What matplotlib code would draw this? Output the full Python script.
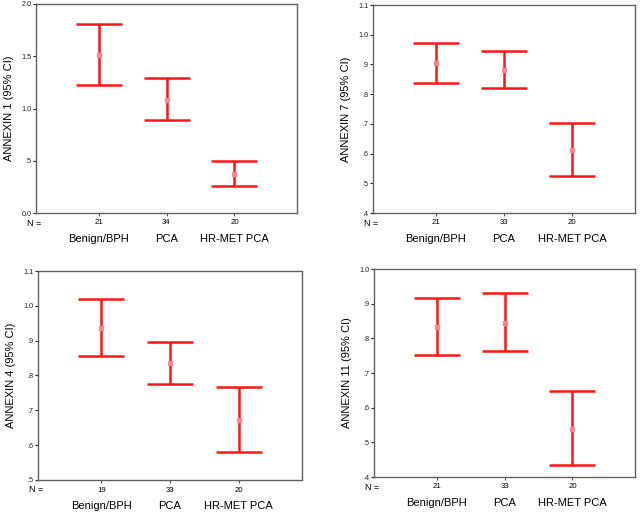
import matplotlib
matplotlib.use("Agg")
import matplotlib.pyplot as plt
from matplotlib.transforms import blended_transform_factory

plt.rcParams['font.family'] = ['Liberation Sans', 'DejaVu Sans']

categories = ["Benign/BPH", "PCA", "HR-MET PCA"]

a1_n = [21, 34, 20]
a1_mean = [1.515, 1.086, 0.374]
a1_low = [1.227, 0.888, 0.256]
a1_high = [1.805, 1.294, 0.495]
a1_ticks = [0.0, 0.5, 1.0, 1.5, 2.0]
a1_labels = ["0.0", ".5", "1.0", "1.5", "2.0"]

a7_n = [21, 33, 20]
a7_mean = [0.904, 0.882, 0.612]
a7_low = [0.837, 0.819, 0.524]
a7_high = [0.972, 0.946, 0.703]
a7_ticks = [0.4, 0.5, 0.6, 0.7, 0.8, 0.9, 1.0, 1.1]
a7_labels = [".4", ".5", ".6", ".7", ".8", ".9", "1.0", "1.1"]

a4_n = [19, 33, 20]
a4_mean = [0.936, 0.835, 0.672]
a4_low = [0.855, 0.776, 0.579]
a4_high = [1.019, 0.896, 0.767]
a4_ticks = [0.5, 0.6, 0.7, 0.8, 0.9, 1.0, 1.1]
a4_labels = [".5", ".6", ".7", ".8", ".9", "1.0", "1.1"]

a11_n = [21, 33, 20]
a11_mean = [0.833, 0.845, 0.539]
a11_low = [0.751, 0.763, 0.434]
a11_high = [0.9155, 0.931, 0.648]
a11_ticks = [0.4, 0.5, 0.6, 0.7, 0.8, 0.9, 1.0]
a11_labels = [".4", ".5", ".6", ".7", ".8", ".9", "1.0"]

W, H = 640, 514
fig = plt.figure(figsize=(6.4, 5.14), dpi=100)

def box(l, r, t, b):
    return [l / W, (H - b) / H, (r - l) / W, (b - t) / H]

panels = [
    ("ANNEXIN 1 (95% CI)", a1_n, a1_mean, a1_low, a1_high, a1_ticks, a1_labels, box(36, 297, 4, 213)),
    ("ANNEXIN 7 (95% CI)", a7_n, a7_mean, a7_low, a7_high, a7_ticks, a7_labels, box(373, 635, 5, 213)),
    ("ANNEXIN 4 (95% CI)", a4_n, a4_mean, a4_low, a4_high, a4_ticks, a4_labels, box(38, 302, 271, 480)),
    ("ANNEXIN 11 (95% CI)", a11_n, a11_mean, a11_low, a11_high, a11_ticks, a11_labels, box(374, 635, 269, 477)),
]

red = '#ff1414'
for ylabel, ns, means, lows, highs, ticks, tlabels, rect in panels:
    ax = fig.add_axes(rect)
    x = [1, 2, 3]
    yerr = [[m - lo for m, lo in zip(means, lows)], [hi - m for m, hi in zip(means, highs)]]
    ax.errorbar(x, means, yerr=yerr, fmt='none', ecolor=red, elinewidth=1.8,
                capsize=16.5, capthick=1.8)
    ax.plot(x, means, linestyle='none', marker='s', markersize=2.6,
            markerfacecolor='#f28a96', markeredgecolor='#f28a96')
    ax.set_xlim(0.08, 3.92)
    ax.set_ylim(ticks[0], ticks[-1])
    ax.set_yticks(ticks)
    ax.set_yticklabels(tlabels)
    ax.set_xticks(x)
    ax.set_xticklabels([])
    ax.tick_params(axis='y', length=2, width=0.8, pad=1, labelsize=5.2, colors='#202020')
    ax.tick_params(axis='x', length=2, width=0.8, colors='#505050')
    for s in ax.spines.values():
        s.set_color('#606060')
        s.set_linewidth(1.0)
    ax.set_ylabel(ylabel, fontsize=8)
    ax.yaxis.set_label_coords(-0.085, 0.5)
    trans = blended_transform_factory(ax.transData, ax.transAxes)
    for xi, n, cat in zip(x, ns, categories):
        ax.annotate(str(n), xy=(xi, 0), xycoords=trans, xytext=(0, -7.2),
                    textcoords='offset points', ha='center', va='center', fontsize=5.6)
        ax.annotate(cat, xy=(xi, 0), xycoords=trans, xytext=(0, -18.7),
                    textcoords='offset points', ha='center', va='center', fontsize=8)
    ax.annotate("N =", xy=(0, 0), xycoords='axes fraction', xytext=(-1, -7.2),
                textcoords='offset points', ha='center', va='center', fontsize=6.5)

fig.savefig("out.png", dpi=100)
